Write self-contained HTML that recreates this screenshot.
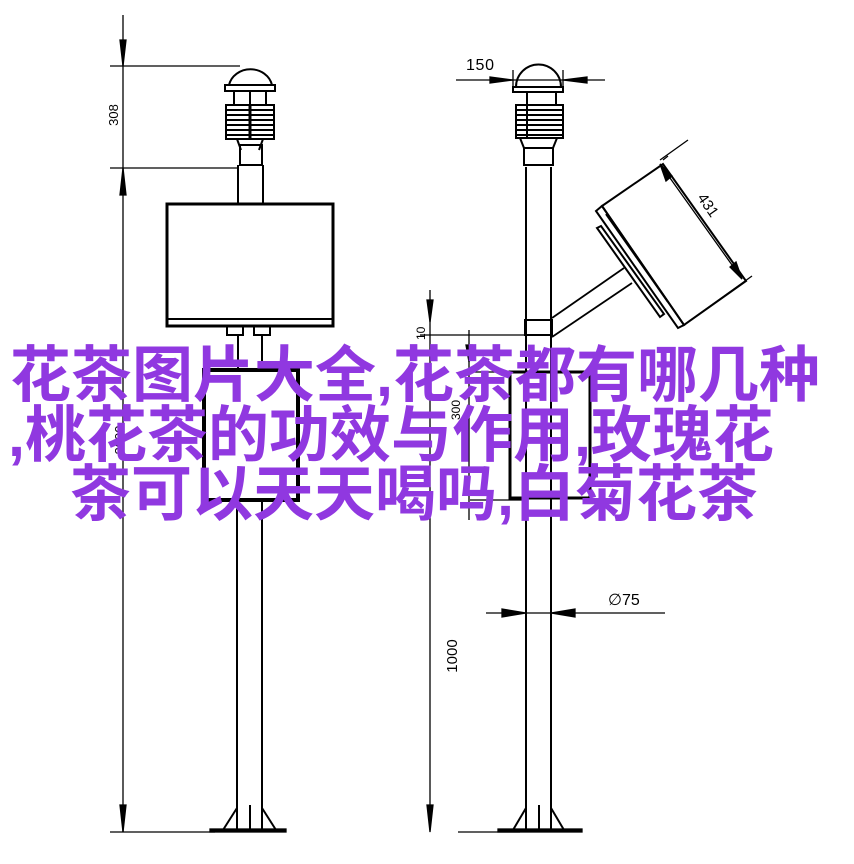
<!DOCTYPE html>
<html><head><meta charset="utf-8"><style>
html,body{margin:0;padding:0;background:#fff;}
#w{position:relative;width:854px;height:864px;overflow:hidden;background:#fff;}
svg{position:absolute;left:0;top:0;}
.t{position:absolute;white-space:nowrap;font-family:"Liberation Sans","Noto Sans CJK SC",sans-serif;font-weight:700;font-size:61px;line-height:61px;color:#9038e0;}
</style></head><body><div id="w">
<svg width="854" height="864" viewBox="0 0 854 864" fill="none" stroke="#000" stroke-width="1.3">
<!-- LEFT dimension -->
<line x1="123" y1="15" x2="123" y2="832"/>
<line x1="110" y1="66" x2="240" y2="66"/>
<line x1="110" y1="168" x2="238" y2="168"/>
<polygon points="120,40 126,40 123,66" fill="#000"/>
<polygon points="120,195 126,195 123,168" fill="#000"/>
<polygon points="120,805 126,805 123,832" fill="#000"/>
<text x="0" y="0" transform="translate(118,115) rotate(-90)" font-family="Liberation Sans" font-size="13" fill="#000" stroke="none" text-anchor="middle">308</text>
<text x="0" y="0" transform="translate(124,440) rotate(-90)" font-family="Liberation Sans" font-size="13" fill="#000" stroke="none" text-anchor="middle">2000</text>
<!-- left sensor -->
<path d="M229,85 A22,20 0 0 1 272,85 Z" stroke-width="2"/>
<rect x="225" y="85" width="50" height="6" stroke-width="2"/>
<line x1="234" y1="91" x2="234" y2="105" stroke-width="2"/><line x1="266" y1="91" x2="266" y2="105" stroke-width="2"/><line x1="250" y1="91" x2="250" y2="105" stroke-width="2"/>
<g stroke-width="2">
<rect x="226" y="105" width="48" height="34"/>
<line x1="226" y1="110" x2="274" y2="110"/><line x1="226" y1="115" x2="274" y2="115"/><line x1="226" y1="120" x2="274" y2="120"/><line x1="226" y1="125" x2="274" y2="125"/><line x1="226" y1="130" x2="274" y2="130"/><line x1="226" y1="135" x2="274" y2="135"/>
<line x1="250" y1="105" x2="250" y2="139" stroke-width="3"/>
<rect x="240" y="145" width="22" height="20"/>
<line x1="237" y1="139" x2="241" y2="150"/><line x1="263" y1="139" x2="259" y2="150"/>
</g>
<line x1="238" y1="165" x2="238" y2="203" stroke-width="2"/><line x1="263" y1="165" x2="263" y2="203" stroke-width="2"/>
<rect x="167" y="204" width="166" height="122" stroke-width="3"/>
<line x1="167" y1="319" x2="333" y2="319" stroke-width="2"/>
<rect x="227" y="326" width="16" height="9" stroke-width="2"/><rect x="254" y="326" width="16" height="9" stroke-width="2"/>
<line x1="238" y1="335" x2="238" y2="370" stroke-width="2"/><line x1="262" y1="335" x2="262" y2="370" stroke-width="2"/>
<rect x="204" y="370" width="94" height="130" stroke-width="4"/>
<line x1="237" y1="500" x2="237" y2="830" stroke-width="2"/><line x1="262" y1="500" x2="262" y2="830" stroke-width="2"/>
<line x1="250" y1="805" x2="250" y2="830" stroke-width="2"/>
<line x1="237" y1="808" x2="223" y2="830" stroke-width="2"/><line x1="262" y1="808" x2="276" y2="830" stroke-width="2"/>
<rect x="210" y="829" width="76" height="3" fill="#000"/>
<line x1="110" y1="832" x2="215" y2="832"/>
<!-- RIGHT -->
<line x1="456" y1="80" x2="605" y2="80"/>
<polygon points="490,77 490,83 513,80" fill="#000"/><polygon points="587,77 587,83 563,80" fill="#000"/>
<line x1="513" y1="70" x2="513" y2="88"/><line x1="563" y1="70" x2="563" y2="88"/>
<text x="466" y="70" font-family="Liberation Sans" font-size="16" fill="#000" stroke="none" textLength="28">150</text>
<path d="M516,87 A22,22 0 0 1 561,87 Z" stroke-width="2"/>
<rect x="513" y="87" width="50" height="5" stroke-width="2"/>
<line x1="527" y1="92" x2="527" y2="105" stroke-width="2"/><line x1="556" y1="92" x2="556" y2="105" stroke-width="2"/>
<g stroke-width="2">
<rect x="516" y="105" width="47" height="33"/>
<line x1="516" y1="110" x2="563" y2="110"/><line x1="516" y1="115" x2="563" y2="115"/><line x1="516" y1="120" x2="563" y2="120"/><line x1="516" y1="125" x2="563" y2="125"/><line x1="516" y1="130" x2="563" y2="130"/><line x1="516" y1="135" x2="563" y2="135"/>
<line x1="527" y1="105" x2="527" y2="138"/>
<rect x="524" y="148" width="29" height="17"/>
<line x1="520" y1="138" x2="524" y2="148"/><line x1="557" y1="138" x2="553" y2="148"/>
</g>
<line x1="526" y1="167" x2="526" y2="830" stroke-width="2"/><line x1="551" y1="167" x2="551" y2="830" stroke-width="2"/>
<rect x="525" y="320" width="27" height="15" stroke-width="2"/>
<!-- arm -->
<line x1="552" y1="318" x2="624" y2="268" stroke-width="1.8"/><line x1="552" y1="337" x2="632" y2="283" stroke-width="1.8"/>
<!-- panel -->
<g stroke-width="2">
<polygon points="602,206 663,164 746,281 684,325"/>
<polygon points="596,211 602,206 684,325 678,328"/>
<polygon points="597,228 601,226 664,314 660,317"/>
<line x1="606" y1="214" x2="668" y2="302"/>
</g>
<line x1="663" y1="160" x2="668" y2="156"/><line x1="660" y1="160" x2="688" y2="140"/>
<line x1="688" y1="322" x2="752" y2="276"/>
<line x1="660" y1="164" x2="742" y2="279"/>
<polygon points="660,164 672,176 666,181" fill="#000"/><polygon points="742,279 730,267 736,262" fill="#000"/>
<text x="0" y="0" transform="translate(704,208) rotate(55)" font-family="Liberation Sans" font-size="15" fill="#000" stroke="none" text-anchor="middle">431</text>
<!-- right dims -->
<line x1="430" y1="290" x2="430" y2="830"/>
<polygon points="427,300 433,300 430,322" fill="#000"/>
<line x1="420" y1="335" x2="525" y2="335"/>
<line x1="469" y1="330" x2="469" y2="520"/>
<polygon points="466,345 472,345 469,362" fill="#000"/>
<line x1="470" y1="372" x2="590" y2="372"/>
<rect x="510" y="372" width="80" height="126" stroke-width="3"/>
<line x1="470" y1="500" x2="525" y2="500"/>
<text x="0" y="0" transform="translate(425,340) rotate(-90)" font-family="Liberation Sans" font-size="12" fill="#000" stroke="none">10</text>
<text x="0" y="0" transform="translate(460,410) rotate(-90)" font-family="Liberation Sans" font-size="12" fill="#000" stroke="none" text-anchor="middle">300</text>
<polygon points="427,805 433,805 430,832" fill="#000"/>
<line x1="458" y1="832" x2="520" y2="832"/>
<text x="0" y="0" transform="translate(457,656) rotate(-90)" font-family="Liberation Sans" font-size="15" fill="#000" stroke="none" text-anchor="middle">1000</text>
<line x1="486" y1="613" x2="665" y2="613"/>
<polygon points="502,609 502,617 526,613" fill="#000"/><polygon points="575,609 575,617 551,613" fill="#000"/>
<text x="608" y="605" font-family="Liberation Sans" font-size="16" fill="#000" stroke="none">∅75</text>
<line x1="539" y1="805" x2="539" y2="830" stroke-width="2"/>
<line x1="526" y1="808" x2="513" y2="830" stroke-width="2"/><line x1="551" y1="808" x2="564" y2="830" stroke-width="2"/>
<rect x="498" y="829" width="84" height="3" fill="#000"/>
</svg>
<div class="t" style="left:10px;top:345px;">花茶图片大全,花茶都有哪几种</div>
<div class="t" style="left:8px;top:405px;">,桃花茶的功效与作用,玫瑰花</div>
<div class="t" style="left:70px;top:464px;">茶可以天天喝吗,白菊花茶</div>
</div></body></html>
